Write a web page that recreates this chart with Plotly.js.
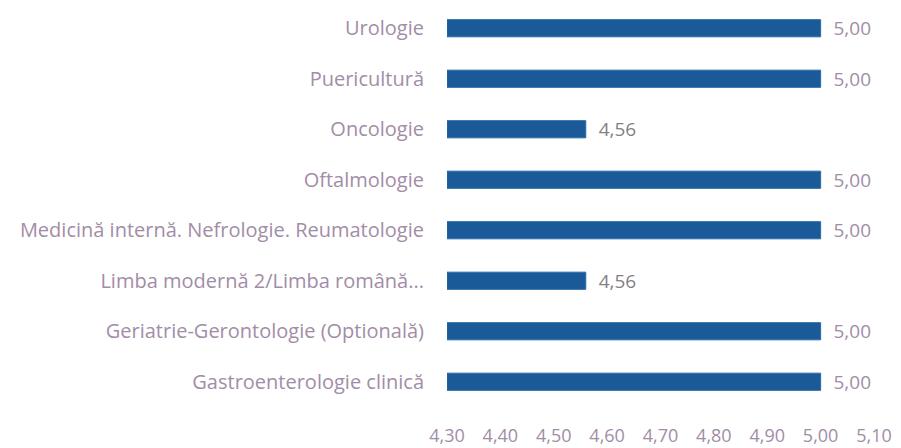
<!DOCTYPE html>
<html>
<head>
<meta charset="utf-8">
<script src="https://cdn.plot.ly/plotly-3.0.1.min.js"></script>
<style>
  body { margin: 0; background: #fff; }
  #chart { width: 901px; height: 448px; }
</style>
</head>
<body>
<div id="chart"></div>
<script>
// categories, bottom to top as drawn
var categories = [
  "Gastroenterologie clinică",
  "Geriatrie-Gerontologie (Optională)",
  "Limba modernă 2/Limba română...",
  "Medicină internă. Nefrologie. Reumatologie",
  "Oftalmologie",
  "Oncologie",
  "Puericultură",
  "Urologie"
];
var scores = [5.00, 5.00, 4.56, 5.00, 5.00, 4.56, 5.00, 5.00];
var tickVals = [4.3, 4.4, 4.5, 4.6, 4.7, 4.8, 4.9, 5.0, 5.1];
var tickText = ["4,30", "4,40", "4,50", "4,60", "4,70", "4,80", "4,90", "5,00", "5,10"];

var axisStart = 4.3;
var labelColor = "#a28da6";

// value labels with a comma as decimal mark, pushed off the bar end
var labels = scores.map(function (v) {
  return "\u00a0\u00a0" + v.toFixed(2).replace(".", ",");
});
var labelColors = scores.map(function (v) {
  return v < 5 ? "#858086" : labelColor;
});

var data = [
  {
    type: "bar",
    orientation: "h",
    y: categories,
    // bars start at 4,30, so the drawn length is value - start
    x: scores.map(function (v) { return v - axisStart; }),
    base: axisStart,
    text: labels,
    textposition: "outside",
    constraintext: "none",
    textfont: { color: labelColors, size: 19 },
    cliponaxis: false,
    marker: { color: "#1b5a98", line: { color: "#2a6aa6", width: 1 } },
    hoverinfo: "y"
  }
];

var layout = {
  width: 901,
  height: 448,
  margin: { l: 447, r: 27, t: 3, b: 41 },
  paper_bgcolor: "#fff",
  plot_bgcolor: "#fff",
  showlegend: false,
  bargap: 0.66,
  font: { family: "Open Sans, sans-serif", size: 19, color: labelColor },
  xaxis: {
    range: [4.3, 5.1],
    tickvals: tickVals,
    ticktext: tickText,
    tickfont: { size: 18 },
    showgrid: false,
    zeroline: false,
    showline: false,
    ticks: "outside",
    ticklen: 12,
    tickcolor: "rgba(0,0,0,0)",
    automargin: false
  },
  yaxis: {
    type: "category",
    tickfont: { size: 20 },
    showgrid: false,
    zeroline: false,
    showline: false,
    ticks: "outside",
    ticklen: 18,
    tickcolor: "rgba(0,0,0,0)",
    automargin: false
  }
};

Plotly.newPlot("chart", data, layout, { displayModeBar: false, staticPlot: true });
</script>
</body>
</html>
